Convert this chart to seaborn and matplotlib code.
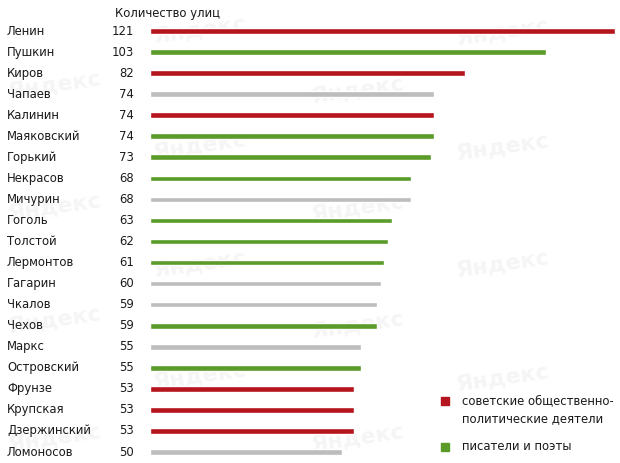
import pandas as pd
import matplotlib.pyplot as plt
import seaborn as sns

# Данные: фамилии, количество улиц, группа
names = ['Ленин', 'Пушкин', 'Киров', 'Чапаев', 'Калинин', 'Маяковский', 'Горький',
         'Некрасов', 'Мичурин', 'Гоголь', 'Толстой', 'Лермонтов', 'Гагарин', 'Чкалов',
         'Чехов', 'Маркс', 'Островский', 'Фрунзе', 'Крупская', 'Дзержинский', 'Ломоносов']
counts = [121, 103, 82, 74, 74, 74, 73, 68, 68, 63, 62, 61, 60, 59, 59, 55, 55, 53, 53, 53, 50]
groups = ['pol', 'lit', 'pol', 'other', 'pol', 'lit', 'lit', 'lit', 'other', 'lit', 'lit',
          'lit', 'other', 'other', 'lit', 'other', 'lit', 'pol', 'pol', 'pol', 'other']

legend_labels = ['советские общественно-\nполитические деятели', 'писатели и поэты']

palette = {'pol': '#B5151F', 'lit': '#5A9B2A', 'other': '#BDBDBD'}
text_color = '#1A1A1A'

df = pd.DataFrame({'name': names, 'count': counts, 'group': groups})

sns.set_theme(style='white')
plt.rcParams['font.family'] = ['DejaVu Sans']

W, H = 620, 463
fig = plt.figure(figsize=(W / 100, H / 100), dpi=100)

# водяные знаки на фоне
bg = fig.add_axes([0, 0, 1, 1], zorder=-5)
bg.axis('off')
wm_pos = [(200, 30), (503, 32), (55, 85), (358, 90), (200, 146), (503, 147),
          (55, 207), (358, 208), (200, 264), (503, 264), (55, 320), (358, 325),
          (200, 376), (503, 378), (55, 438), (358, 438)]
for x, y in wm_pos:
    bg.text(x / W, 1 - y / H, 'Яндекс', fontsize=16, color='#F5F5F5',
            fontweight='bold', rotation=8, ha='center', va='center',
            transform=bg.transAxes)

n = len(names)
row_h = (452 - 31) / (n - 1)
top_px = 31 - row_h / 2
bot_px = 452 + row_h / 2
ax = fig.add_axes([150 / W, 1 - bot_px / H, (615 - 150) / W, (bot_px - top_px) / H],
                  zorder=1)
ax.patch.set_alpha(0)

sns.barplot(data=df, x='count', y='name', hue='group', palette=palette,
            dodge=False, width=0.27, legend=False, ax=ax, saturation=1)

ax.set_xlim(0, 121)
ax.set_ylim(n - 0.5, -0.5)
ax.set_xticks([])
ax.set_yticks([])
ax.set_xlabel('')
ax.set_ylabel('')
sns.despine(ax=ax, left=True, bottom=True)

# подписи: фамилии и значения
trans = ax.get_yaxis_transform()
for i, (nm, c) in enumerate(zip(names, counts)):
    ax.text(-143 / 465, i, nm, transform=trans, ha='left', va='center',
            fontsize=8.4, color=text_color, clip_on=False)
    ax.text(-16 / 465, i, str(c), transform=trans, ha='right', va='center',
            fontsize=8.4, color=text_color, clip_on=False)

fig.text(115 / W, 1 - 13 / H, 'Количество улиц', ha='left', va='center',
         fontsize=8.4, color=text_color)

# легенда
leg_y = [401, 447]
for (lab, key, y) in zip(legend_labels, ['pol', 'lit'], leg_y):
    fig.patches.append(plt.Rectangle((441 / W, 1 - (y + 4) / H), 8 / W, 8 / H,
                                     transform=fig.transFigure, color=palette[key]))
    fig.text(462 / W, 1 - (y - 7) / H, lab, ha='left', va='top', fontsize=8.4,
             color=text_color, linespacing=1.5)

plt.savefig('out.png', dpi=100)
plt.close()
